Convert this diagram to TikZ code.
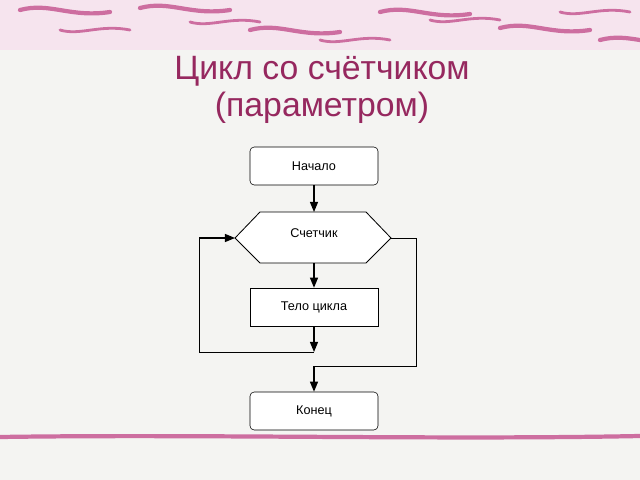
\documentclass[tikz,border=0pt]{standalone}
\usepackage{fontspec}
\setmainfont{Liberation Sans}
\usetikzlibrary{shapes.geometric, arrows.meta, positioning}
\definecolor{titlecol}{RGB}{150,40,95}
\definecolor{strokecol}{RGB}{205,110,160}
\definecolor{bannercol}{RGB}{246,228,238}
\definecolor{papercol}{RGB}{244,244,242}

\begin{document}
\begin{tikzpicture}[
    x=0.025cm, y=-0.025cm,
    box/.style={rectangle, rounded corners=3pt, minimum width=3.2cm, minimum height=0.95cm, text centered, draw=black, fill=white, font=\small},
    body/.style={rectangle, minimum width=3.2cm, minimum height=0.95cm, text centered, draw=black, fill=white, font=\small},
    arrow/.style={-{Triangle[length=2.5mm, width=2mm]}, thick},
    brush/.style={strokecol, line width=3pt, line cap=round}
]
\useasboundingbox (0,0) rectangle (640,480);
\fill[papercol] (0,0) rectangle (640,480);

% Banner
\fill[bannercol] (0,0) rectangle (640,50);
\foreach \x/\y in {20/10, 140/8, 250/30, 380/12, 500/28, 600/40} {
    \draw[brush] (\x,\y) .. controls (\x+30,\y-8) and (\x+50,\y+8) .. (\x+90,\y+2);
}
\foreach \x/\y in {60/30, 190/22, 320/40, 430/20, 560/12} {
    \draw[brush, line width=2pt] (\x,\y) .. controls (\x+20,\y+6) and (\x+40,\y-6) .. (\x+70,\y);
}

% Title
\node[titlecol, font=\fontsize{24}{26}\selectfont, align=center] (title) at (322,90) {Цикл со счётчиком\\(параметром)};

% Flowchart
\node[box] (start) at (314,166) {Начало};
\draw[fill=white, semithick] (235,238) -- (260,212) -- (366,212) -- (391,238) -- (366,263) -- (260,263) -- cycle;
\node[font=\small] (count) at (314,233) {Счетчик};
\coordinate (cntL) at (235,238);
\coordinate (cntR) at (391,238);
\coordinate (cntT) at (314,212);
\coordinate (cntB) at (314,263);
\node[body] (loopbody) at (314,307) {Тело цикла};
\node[box] (finish) at (314,411) {Конец};

\coordinate (back) at (314,352);
\coordinate (exit) at (314,366);

% Arrows
\draw[arrow] (start) -- (cntT);
\draw[arrow] (cntB) -- (loopbody);
\draw[arrow] (loopbody) -- (back);
\draw[semithick] (back) -- (199,352) -- (199,238);
\draw[arrow] (199,238) -- (cntL);
\draw[semithick] (cntR) -- (416,238) -- (416,366) -- (exit);
\draw[arrow] (exit) -- (finish);

% Bottom line
\draw[strokecol, line width=3pt] (0,437) .. controls (200,434) and (440,440) .. (640,436);
\end{tikzpicture}
\end{document}
